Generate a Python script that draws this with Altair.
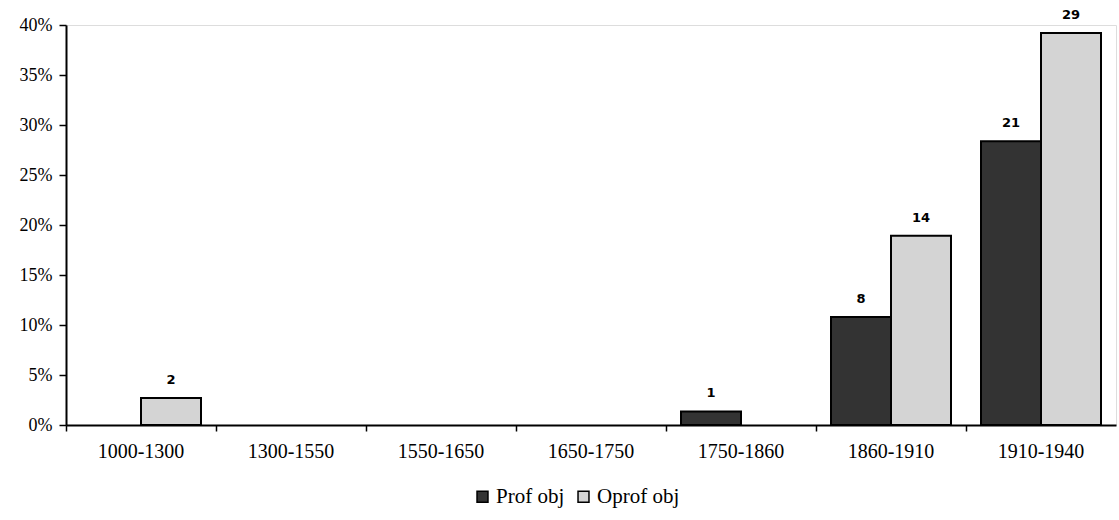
import altair as alt
import pandas as pd

periods = ["1000-1300", "1300-1550", "1550-1650", "1650-1750",
           "1750-1860", "1860-1910", "1910-1940"]
series = ["Prof obj", "Oprof obj"]
prof_counts = [0, 0, 0, 0, 1, 8, 21]
oprof_counts = [2, 0, 0, 0, 0, 14, 29]
total_objects = 74
y_ticks = [0, 0.05, 0.10, 0.15, 0.20, 0.25, 0.30, 0.35, 0.40]
colors = ["#333333", "#d4d4d4"]

rows = []
for name, counts in zip(series, [prof_counts, oprof_counts]):
    for period, n in zip(periods, counts):
        if n > 0:
            rows.append({"period": period, "series": name, "count": n})
df = pd.DataFrame(rows)

serif = "Liberation Serif"

base = alt.Chart(df).transform_calculate(
    share=f"datum.count / {total_objects}"
).encode(
    x=alt.X("period:N", sort=periods,
            scale=alt.Scale(domain=periods, paddingInner=0, paddingOuter=0),
            axis=alt.Axis(title=None, bandPosition=0, labelAngle=0,
                          labelFont=serif, labelFontSize=20, labelColor="black",
                          labelPadding=10, tickSize=6, tickWidth=1.5,
                          tickColor="black", domainColor="black", domainWidth=2,
                          grid=False, labelBound=False)),
    xOffset=alt.XOffset("series:N", sort=series,
                        scale=alt.Scale(domain=series, paddingInner=0, paddingOuter=0.25)),
    y=alt.Y("share:Q", scale=alt.Scale(domain=[0, 0.4], nice=False),
            axis=alt.Axis(title=None, values=y_ticks, format=".0%",
                          labelFont=serif, labelFontSize=18, labelColor="black",
                          labelPadding=7, tickSize=7, tickWidth=1.5,
                          tickColor="black", domainColor="black", domainWidth=2,
                          grid=False)),
)

bars = base.mark_bar(stroke="black", strokeWidth=2).encode(
    color=alt.Color("series:N", sort=series,
                    scale=alt.Scale(domain=series, range=colors),
                    legend=alt.Legend(title=None, orient="none", direction="horizontal",
                                      legendX=406, legendY=461,
                                      symbolType="square", symbolSize=120,
                                      symbolStrokeColor="black", symbolStrokeWidth=1.5,
                                      labelFont=serif, labelFontSize=21,
                                      labelColor="black", labelOffset=3,
                                      columnPadding=8))
)

labels = base.mark_text(font="DejaVu Sans", fontWeight="bold", fontSize=13,
                        baseline="alphabetic", dy=-14, color="black").encode(
    text=alt.Text("count:Q")
)

chart = alt.layer(bars, labels).properties(
    width=1050, height=400,
    autosize=alt.AutoSizeParams(type="none"),
    padding={"left": 66, "top": 25, "right": 3, "bottom": 95},
).configure_view(stroke=None).configure(background="white")

chart.save("out.html", embed_options={"renderer": "svg", "actions": False})
